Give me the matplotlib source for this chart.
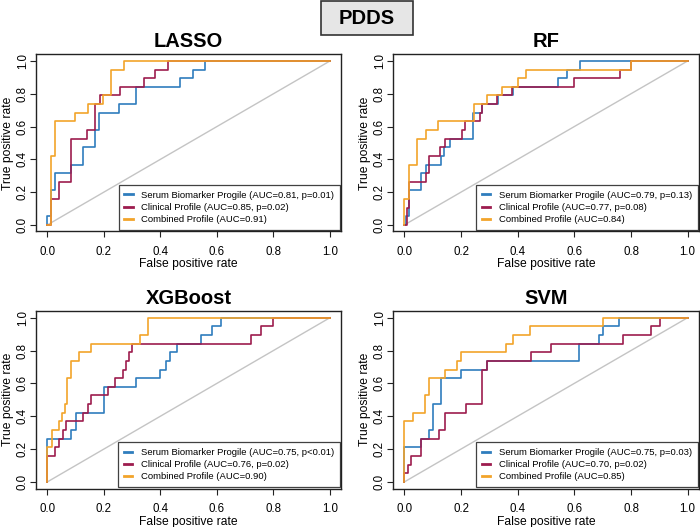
import matplotlib
matplotlib.use('Agg')
import matplotlib.pyplot as plt
from matplotlib.patches import Rectangle
import numpy as np

plt.rcParams['font.family'] = ['Liberation Sans', 'DejaVu Sans']

# ROC step points: (fpr where the curve rises, number of positives reached out of 19)
n_pos = 19

lasso_serum_fpr = [0, 0, 0.013, 0.026, 0.085, 0.126, 0.168, 0.183, 0.255, 0.313, 0.469, 0.514, 0.557, 1.0]
lasso_serum_k = [0, 1, 4, 6, 7, 9, 11, 13, 14, 16, 17, 18, 19, 19]
lasso_clin_fpr = [0, 0.014, 0.041, 0.085, 0.142, 0.168, 0.185, 0.256, 0.341, 0.38, 0.427, 1.0]
lasso_clin_k = [0, 3, 5, 10, 11, 14, 15, 16, 17, 18, 19, 19]
lasso_comb_fpr = [0, 0.012, 0.026, 0.099, 0.144, 0.197, 0.227, 0.27, 1.0]
lasso_comb_k = [0, 8, 12, 13, 14, 15, 18, 19, 19]

rf_serum_fpr = [0, 0.006, 0.018, 0.059, 0.076, 0.13, 0.14, 0.16, 0.244, 0.273, 0.33, 0.385, 0.544, 0.573, 0.62, 1.0]
rf_serum_k = [0, 1, 4, 6, 7, 8, 9, 10, 13, 14, 15, 16, 17, 18, 19, 19]
rf_clin_fpr = [0, 0.008, 0.018, 0.076, 0.088, 0.126, 0.144, 0.202, 0.214, 0.267, 0.273, 0.326, 0.38, 0.6, 0.76, 0.8, 1.0]
rf_clin_k = [0, 2, 5, 6, 8, 9, 10, 11, 12, 13, 14, 15, 16, 17, 18, 19, 19]
rf_comb_fpr = [0, 0, 0.018, 0.045, 0.076, 0.119, 0.246, 0.29, 0.345, 0.4, 0.43, 0.8, 1.0]
rf_comb_k = [0, 3, 7, 10, 11, 12, 14, 15, 16, 17, 18, 19, 19]

xgb_serum_fpr = [0, 0, 0.085, 0.1, 0.2, 0.315, 0.4, 0.42, 0.435, 0.46, 0.543, 0.584, 0.614, 1.0]
xgb_serum_k = [0, 5, 6, 8, 11, 12, 13, 14, 15, 16, 17, 18, 19, 19]
xgb_clin_fpr = [0, 0, 0.026, 0.042, 0.054, 0.066, 0.126, 0.143, 0.155, 0.215, 0.24, 0.266, 0.28, 0.29, 0.3, 0.72, 0.755, 0.8, 1.0]
xgb_clin_k = [0, 3, 4, 5, 6, 7, 8, 9, 10, 11, 12, 13, 14, 15, 16, 17, 18, 19, 19]
xgb_comb_fpr = [0, 0, 0.015, 0.04, 0.053, 0.062, 0.071, 0.085, 0.112, 0.155, 0.327, 0.357, 1.0]
xgb_comb_k = [0, 4, 6, 7, 8, 9, 12, 14, 15, 16, 17, 19, 19]

svm_serum_fpr = [0, 0, 0.058, 0.086, 0.1, 0.13, 0.2, 0.29, 0.616, 0.687, 0.70, 0.758, 1.0]
svm_serum_k = [0, 4, 5, 6, 9, 12, 13, 14, 16, 17, 18, 19, 19]
svm_clin_fpr = [0, 0, 0.012, 0.024, 0.058, 0.121, 0.143, 0.217, 0.274, 0.29, 0.446, 0.517, 0.772, 0.872, 0.902, 1.0]
svm_clin_k = [0, 1, 2, 3, 5, 6, 8, 9, 13, 14, 15, 16, 17, 18, 19, 19]
svm_comb_fpr = [0, 0, 0.031, 0.072, 0.086, 0.145, 0.187, 0.2, 0.359, 0.385, 0.444, 0.702, 1.0]
svm_comb_k = [0, 7, 8, 10, 12, 13, 14, 15, 16, 17, 18, 19, 19]

titles = ['LASSO', 'RF', 'XGBoost', 'SVM']
legend_labels = [
    ['Serum Biomarker Progile (AUC=0.81, p=0.01)', 'Clinical Profile (AUC=0.85, p=0.02)', 'Combined Profile (AUC=0.91)'],
    ['Serum Biomarker Progile (AUC=0.79, p=0.13)', 'Clinical Profile (AUC=0.77, p=0.08)', 'Combined Profile (AUC=0.84)'],
    ['Serum Biomarker Progile (AUC=0.75, p<0.01)', 'Clinical Profile (AUC=0.76, p=0.02)', 'Combined Profile (AUC=0.90)'],
    ['Serum Biomarker Progile (AUC=0.75, p=0.03)', 'Clinical Profile (AUC=0.70, p=0.02)', 'Combined Profile (AUC=0.85)'],
]
curves = [
    [(lasso_serum_fpr, lasso_serum_k), (lasso_clin_fpr, lasso_clin_k), (lasso_comb_fpr, lasso_comb_k)],
    [(rf_serum_fpr, rf_serum_k), (rf_clin_fpr, rf_clin_k), (rf_comb_fpr, rf_comb_k)],
    [(xgb_serum_fpr, xgb_serum_k), (xgb_clin_fpr, xgb_clin_k), (xgb_comb_fpr, xgb_comb_k)],
    [(svm_serum_fpr, svm_serum_k), (svm_clin_fpr, svm_clin_k), (svm_comb_fpr, svm_comb_k)],
]
colors = ['#2f7dbd', '#9d1c4e', '#f2a42a']

W, H = 700, 527
fig = plt.figure(figsize=(7, 5.27), dpi=100)

# axes boxes in pixels: left, top, right, bottom
boxes = [(36, 54.4, 341.3, 231.5), (393, 54.4, 699, 231.5),
         (36, 311.1, 341.3, 488.5), (393, 311.1, 699, 488.5)]

ticks = [0, 0.2, 0.4, 0.6, 0.8, 1.0]
for i in range(4):
    l, t, r, b = boxes[i]
    ax = fig.add_axes([l / W, 1 - b / H, (r - l) / W, (b - t) / H])
    ax.plot([0, 1], [0, 1], color='#c4c4c4', lw=1.0)
    for j in range(3):
        fpr, k = curves[i][j]
        ax.plot(fpr, np.array(k) / n_pos, drawstyle='steps-post', color=colors[j],
                lw=1.2, label=legend_labels[i][j])
    ax.set_xlim(-0.04, 1.04)
    ax.set_ylim(-0.04, 1.04)
    ax.set_xticks(ticks)
    ax.set_yticks(ticks)
    ax.set_xticklabels(['%.1f' % v for v in ticks])
    ax.set_yticklabels(['%.1f' % v for v in ticks], rotation=90, va='center')
    ax.tick_params(labelsize=8.3, length=4.3, width=0.8, color='#222222')
    ax.tick_params(axis='x', pad=6)
    ax.tick_params(axis='y', pad=0.8)
    for s in ax.spines.values():
        s.set_linewidth(1.0)
        s.set_color('#222222')
    ax.set_xlabel('False positive rate', fontsize=8.7)
    ax.set_ylabel('True positive rate', fontsize=8.7)
    # label positions in pixels away from the axes box
    ax.xaxis.set_label_coords(0.5, -27 / (b - t))
    ax.yaxis.set_label_coords(-22 / (r - l), 0.5)
    ax.set_title(titles[i], fontsize=14.5, fontweight='bold', pad=5)
    leg = ax.legend(loc='lower right', fontsize=6.8, frameon=True, fancybox=False,
                    handlelength=0.9, handletextpad=0.9, labelspacing=0.35,
                    borderaxespad=0.15, borderpad=0.6)
    leg.get_frame().set_edgecolor('#111111')
    leg.get_frame().set_linewidth(0.9)
    for line in leg.get_lines():
        line.set_linewidth(2)

# PDDS header box
fig.patches.append(Rectangle((321 / W, 1 - 35 / H), 92 / W, 34 / H, transform=fig.transFigure,
                             facecolor='#e6e6e6', edgecolor='#333333', lw=1.2))
fig.text(367 / W, 1 - 18.5 / H, 'PDDS', ha='center', va='center', fontsize=14.5, fontweight='bold')

fig.savefig('out.png', dpi=100)
